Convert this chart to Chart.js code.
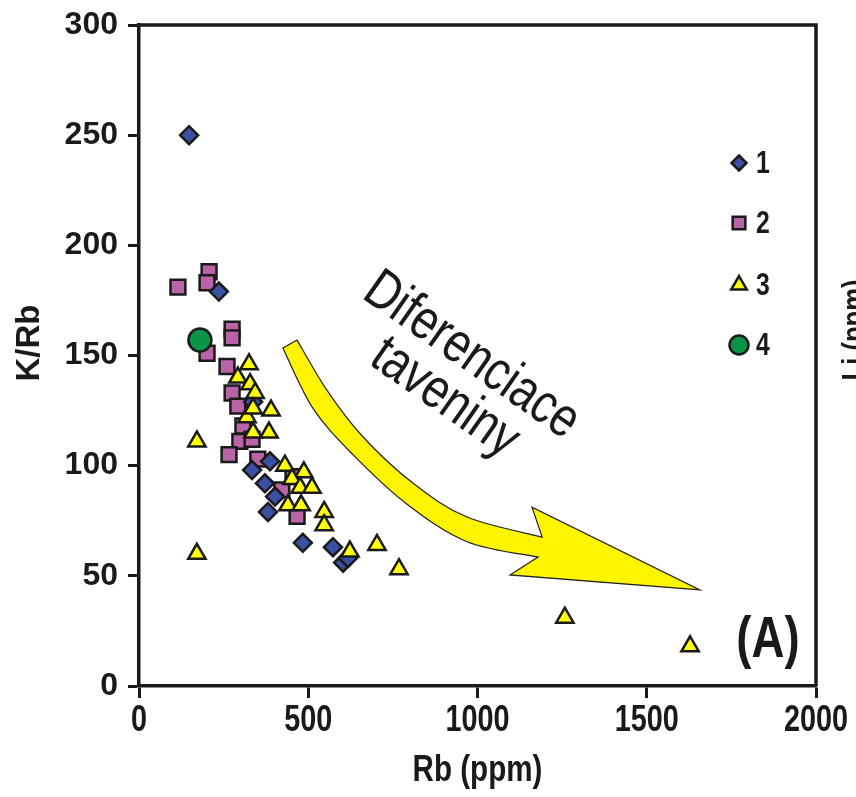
<!DOCTYPE html>
<html><head><meta charset="utf-8">
<script src="https://cdn.jsdelivr.net/npm/chart.js@4/dist/chart.umd.min.js"></script>
<style>html,body{margin:0;padding:0;background:#fff;}#wrap{width:856px;height:797px;}</style>
</head><body><div id="wrap"><canvas id="c" width="856" height="797"></canvas></div>
<script>
// ---- data (Rb ppm, K/Rb) ----
const g1Rb  = [148, 236, 337, 334, 372, 387, 381, 402, 484, 573, 603, 617];
const g1KRb = [250, 179, 129,  98,  92, 102,  79,  86,  65,  63,  56,  58];
const g2Rb  = [115, 207, 201, 201, 275, 275, 260, 275, 292, 307, 298, 266, 334, 351, 422, 455, 467];
const g2KRb = [181, 188, 183, 151, 162, 158, 145, 133, 127, 118, 111, 105, 112, 103,  89,  95,  77];
const g3Rb  = [171, 171, 325, 292, 328, 343, 390, 319, 337, 337, 384, 431, 487, 452, 476, 511, 440, 479, 547, 547, 623, 703, 768, 1258, 1628];
const g3KRb = [111,  60, 146, 140, 137, 133, 125, 122, 126, 115, 115, 100,  97,  94,  90,  90,  82,  82,  79,  73,  61,  64,  53,   31,   18];
const g4Rb  = [180];
const g4KRb = [157];
const seriesLabels = ['1', '2', '3', '4'];
const xTicks = [0, 500, 1000, 1500, 2000];
const yTicks = [0, 50, 100, 150, 200, 250, 300];
const xTitle = 'Rb (ppm)';
const yTitle = 'K/Rb';
// annotation arrow outline (data units)
const arrowUpper = [[467,157],[555,134.3],[662,113],[809,92.1],[969,76.7],[1191,67.6]];
const arrowHead  = [[1161,81.2],[1657,43.6],[1096,50.4],[1179,58.5]];
const arrowLower = [[969,65.5],[792,82.5],[632,105],[514,126],[425,153.4]];

const SANS = '"Liberation Sans", Arial, sans-serif';
const NARROW_SCALE = 0.8;
const INK = '#1a1a1a';

const pts = (xs, ys) => xs.map((x, i) => ({x, y: ys[i]}));
const styles = [
  {pointStyle:'rectRot', fill:'#3a50a2', r:9, lr:7.5},
  {pointStyle:'rect', fill:'#b864a6', r:10.5, lr:9},
  {pointStyle:'triangle', fill:'#ffff00', r:10, lr:9},
  {pointStyle:'circle', fill:'#0a9447', r:11.5, lr:9.5}
];
const dataX = [g1Rb, g2Rb, g3Rb, g4Rb];
const dataY = [g1KRb, g2KRb, g3KRb, g4KRb];
const orders = [3, 4, 2, 1];

function markerPath(ctx, style, x, y, r){
  ctx.beginPath();
  if (style === 'rectRot'){ ctx.moveTo(x, y-r); ctx.lineTo(x+r, y); ctx.lineTo(x, y+r); ctx.lineTo(x-r, y); ctx.closePath(); }
  else if (style === 'rect'){ const s = r*Math.SQRT1_2; ctx.rect(x-s, y-s, 2*s, 2*s); }
  else if (style === 'triangle'){ ctx.moveTo(x, y-r); ctx.lineTo(x+0.866*r, y+0.5*r); ctx.lineTo(x-0.866*r, y+0.5*r); ctx.closePath(); }
  else { ctx.arc(x, y, r, 0, Math.PI*2); }
}

function smoothThrough(ctx, P, first){
  if (first) ctx.moveTo(P[0][0], P[0][1]); else ctx.lineTo(P[0][0], P[0][1]);
  for (let i = 0; i < P.length-1; i++){
    const p0 = P[Math.max(i-1,0)], p1 = P[i], p2 = P[i+1], p3 = P[Math.min(i+2, P.length-1)];
    const c1 = [p1[0] + (p2[0]-p0[0])/6, p1[1] + (p2[1]-p0[1])/6];
    const c2 = [p2[0] - (p3[0]-p1[0])/6, p2[1] - (p3[1]-p1[1])/6];
    ctx.bezierCurveTo(c1[0], c1[1], c2[0], c2[1], p2[0], p2[1]);
  }
}

function text(ctx, t, x, y, font, opts = {}){
  ctx.save();
  ctx.translate(x, y);
  if (opts.rot) ctx.rotate(opts.rot);
  ctx.scale(opts.h || 1, 1);
  ctx.font = font;
  ctx.fillStyle = INK;
  ctx.textAlign = opts.align || 'center';
  ctx.textBaseline = opts.base || 'middle';
  ctx.fillText(t, 0, 0);
  ctx.restore();
}

const decor = {
  id: 'decor',
  beforeDatasetsDraw(chart){
    const {ctx, scales:{x, y}} = chart;
    const px = p => [x.getPixelForValue(p[0]), y.getPixelForValue(p[1])];
    ctx.save();
    ctx.beginPath();
    smoothThrough(ctx, arrowUpper.map(px), true);
    arrowHead.map(px).forEach(p => ctx.lineTo(p[0], p[1]));
    smoothThrough(ctx, [arrowHead[3], ...arrowLower].map(px), false);
    ctx.closePath();
    ctx.fillStyle = '#fff500';
    ctx.fill();
    ctx.lineWidth = 1.2; ctx.strokeStyle = '#222';
    ctx.stroke();
    ctx.restore();
    const ang = 35 * Math.PI / 180;
    text(ctx, 'Diferenciace', x.getPixelForValue(982), y.getPixelForValue(149.8), '56px ' + SANS, {rot: ang, h: NARROW_SCALE});
    text(ctx, 'taveniny', x.getPixelForValue(903), y.getPixelForValue(130.6), '56px ' + SANS, {rot: ang, h: NARROW_SCALE});
  },
  afterDraw(chart){
    const {ctx, chartArea:a, scales:{x, y}} = chart;
    ctx.save();
    // frame top & right
    ctx.strokeStyle = INK; ctx.lineWidth = 3.5;
    ctx.beginPath();
    ctx.moveTo(a.left, a.top); ctx.lineTo(a.right, a.top); ctx.lineTo(a.right, a.bottom);
    ctx.stroke();
    ctx.restore();
    // x tick labels & axis titles (condensed bold)
    xTicks.forEach(v => text(ctx, String(v), x.getPixelForValue(v), a.bottom + 35, 'bold 36px ' + SANS, {h: NARROW_SCALE}));
    text(ctx, xTitle, (a.left + a.right) / 2, 771, 'bold 37px ' + SANS, {h: NARROW_SCALE});
    text(ctx, yTitle, 30, 343, 'bold 33px ' + SANS, {rot: -Math.PI/2});
    // legend
    const ly = [163, 223, 285, 345];
    seriesLabels.forEach((lab, i) => {
      const s = styles[i];
      ctx.save();
      markerPath(ctx, s.pointStyle, 739, ly[i], s.lr);
      ctx.fillStyle = s.fill; ctx.fill();
      ctx.lineWidth = 2.5; ctx.strokeStyle = INK; ctx.stroke();
      ctx.restore();
      text(ctx, lab, 756, ly[i] + 1, 'bold 31px ' + SANS, {h: NARROW_SCALE, align: 'left'});
    });
    // panel label
    text(ctx, '(A)', 768, 641, 'bold 57px ' + SANS, {h: NARROW_SCALE});
    // neighbouring panel's axis title, cut by the edge
    text(ctx, 'Li (ppm)', 864, 330, 'bold 32px ' + SANS, {rot: -Math.PI/2, h: NARROW_SCALE, base: 'alphabetic'});
  }
};

new Chart(document.getElementById('c'), {
  type: 'scatter',
  data: {
    datasets: seriesLabels.map((lab, i) => ({
      label: lab,
      data: pts(dataX[i], dataY[i]),
      pointStyle: styles[i].pointStyle,
      pointRadius: styles[i].r,
      backgroundColor: styles[i].fill,
      borderColor: INK,
      borderWidth: 2.5,
      order: orders[i]
    }))
  },
  options: {
    responsive: false, animation: false, devicePixelRatio: 1, events: [],
    layout: {padding: {top: 25, right: 40, left: 0, bottom: 0}},
    plugins: {legend: {display: false}, tooltip: {enabled: false}},
    scales: {
      x: {
        type: 'linear', min: 0, max: 2000,
        afterBuildTicks: s => { s.ticks = xTicks.map(v => ({value: v})); },
        afterFit: s => { s.height = 111; },
        ticks: {display: false},
        grid: {drawOnChartArea: false, drawTicks: true, tickLength: 12, tickWidth: 3, tickColor: INK},
        border: {display: true, width: 3.5, color: INK},
        title: {display: false}
      },
      y: {
        type: 'linear', min: 0, max: 300,
        afterBuildTicks: s => { s.ticks = yTicks.map(v => ({value: v})); },
        afterFit: s => { s.width = 139; s.paddingTop = 0; s.paddingBottom = 0; },
        ticks: {color: INK, padding: 10, font: {family: SANS, size: 32, weight: 'bold', lineHeight: 0.8}},
        grid: {drawOnChartArea: false, drawTicks: true, tickLength: 11, tickWidth: 3, tickColor: INK},
        border: {display: true, width: 3.5, color: INK},
        title: {display: false}
      }
    }
  },
  plugins: [decor]
});
</script></body></html>
